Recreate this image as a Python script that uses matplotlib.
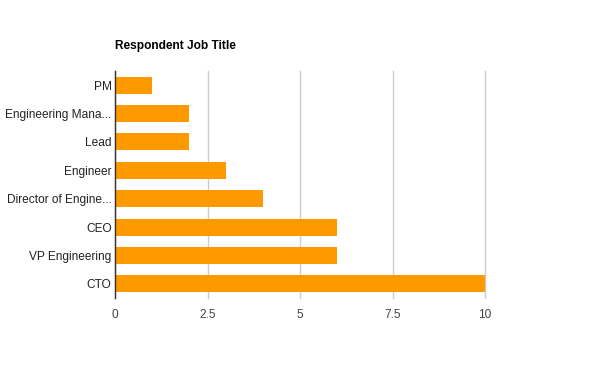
import matplotlib
matplotlib.use("Agg")
import matplotlib.pyplot as plt

# data, top to bottom as drawn
titles = ["PM", "Engineering Mana...", "Lead", "Engineer",
          "Director of Engine...", "CEO", "VP Engineering", "CTO"]
counts = [1, 2, 2, 3, 4, 6, 6, 10]
xticks = [0, 2.5, 5, 7.5, 10]
xticklabels = ["0", "2.5", "5", "7.5", "10"]

plt.rcParams["font.family"] = ["Liberation Sans", "DejaVu Sans"]

fig = plt.figure(figsize=(6, 3.71), dpi=100)
ax = fig.add_axes([115 / 600, 73 / 371, 370 / 600, 227 / 371])

pos = list(range(len(titles)))
ax.barh(pos, counts, height=0.6, color="#ff9900", zorder=3)
ax.set_ylim(len(titles) - 0.5, -0.5)
ax.set_xlim(0, 10)

ax.set_yticks(pos)
ax.set_yticklabels(titles, fontsize=8.6, color="#222222")
ax.set_xticks(xticks)
ax.set_xticklabels(xticklabels, fontsize=8.6, color="#444444")
ax.tick_params(axis="y", length=0, pad=2.5)
ax.tick_params(axis="x", length=0, pad=8)

ax.grid(axis="x", color="#cccccc", linewidth=1, zorder=0)
for gl in ax.get_xgridlines():
    gl.set_clip_on(False)
for s in ["top", "right", "bottom"]:
    ax.spines[s].set_visible(False)
ax.spines["left"].set_color("#333333")
ax.spines["left"].set_linewidth(1)
ax.spines["left"].set_zorder(4)

fig.text(115 / 600, 1 - 46 / 371, "Respondent Job Title", fontsize=8.6,
         fontweight="bold", color="#000000", ha="left", va="center")

fig.savefig("out.png", dpi=100, facecolor="white")
